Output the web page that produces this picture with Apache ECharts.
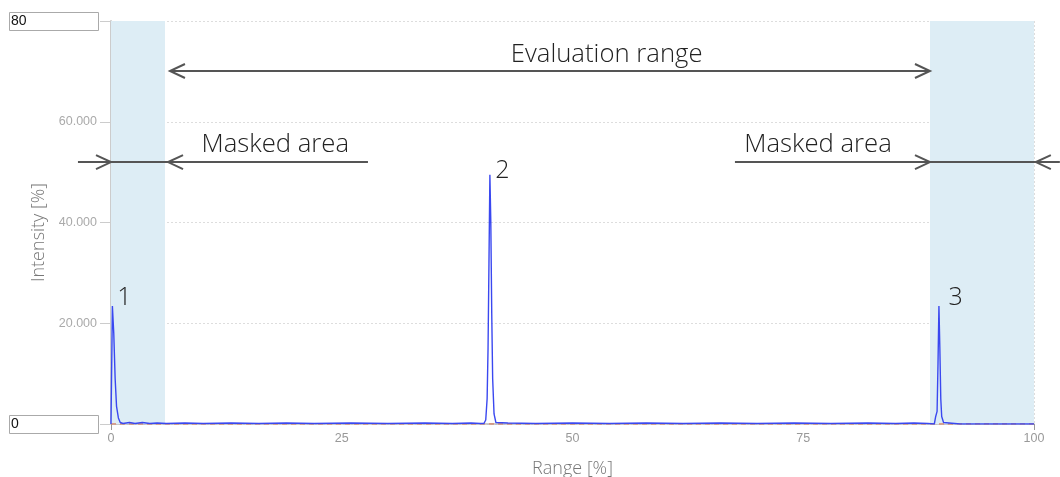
<!DOCTYPE html>
<html><head><meta charset="utf-8">
<script src="https://cdn.jsdelivr.net/npm/echarts@6/dist/echarts.min.js"></script>
<style>html,body{margin:0;padding:0;background:#fff}#c{width:1060px;height:477px}</style>
</head><body><div id="c"></div>
<script>
// Spectrum (x = Range %, y = Intensity %)
const rangeX = [0,0.15,0.3,0.45,0.6,0.8,1.0,1.3,2,2.6,3.4,4.2,5,6,8,10,13,16,19,22,26,30,34,37,39,40,40.4,40.6,40.75,40.85,40.95,41.05,41.15,41.25,41.35,41.5,41.7,41.9,43,46,50,54,58,62,66,70,74,78,82,85,87,88.5,89.2,89.35,89.5,89.6,89.7,89.8,89.9,90.0,90.2,90.4,92,95,98,100];
const intensity = [0,23.4,18,9,3.5,1.2,0.3,0.1,0.3,0.1,0.3,0.1,0.2,0.1,0.2,0.1,0.2,0.1,0.2,0.1,0.2,0.1,0.2,0.1,0.2,0.1,0.1,0.8,5,15,32,49.5,40,22,9,2,0.3,0.1,0.2,0.1,0.2,0.1,0.2,0.1,0.2,0.1,0.2,0.1,0.2,0.1,0.2,0.1,0,1.5,2.5,12,23.4,15,5,1.5,0.3,0,0,0,0,0];
const baselineX = [0,100];
const baselineY = [0,0];
const xTicks = [0,25,50,75,100];
const yTicks = [0,20,40,60,80];
const maskedAreas = [[0,5.85],[88.73,100]];
const peakLabels = [{t:'1',x:1.45,y:25.1},{t:'2',x:42.4,y:50.3},{t:'3',x:91.5,y:25.1}];
const annotTexts = [{t:'Evaluation range',x:53.7,y:73.4},{t:'Masked area',x:17.8,y:55.4},{t:'Masked area',x:76.6,y:55.4}];
// arrows: line from a to b at y, with tips [{x,dir}]
const arrows = [
  {x1:6.39,x2:88.73,y:70.07,tips:[{x:6.39,d:-1},{x:88.73,d:1}]},
  {x1:-3.58,x2:27.84,y:52.0,tips:[{x:0,d:1},{x:6.18,d:-1}]},
  {x1:67.6,x2:102.8,y:52.0,tips:[{x:88.73,d:1},{x:100.2,d:-1}]}
];

const chart = echarts.init(document.getElementById('c'));
const font = '"Open Sans", "Liberation Sans", Arial, sans-serif';
const tickFont = '"Liberation Sans", Arial, sans-serif';
chart.setOption({
  animation:false,
  grid:{left:111,right:26,top:21,bottom:53,containLabel:false,outerBoundsMode:'none'},
  xAxis:{type:'value',min:0,max:100,interval:25,
    name:'Range [%]',nameLocation:'middle',nameGap:36,
    nameTextStyle:{color:'#777',fontSize:18,fontWeight:300,fontFamily:font},
    axisLine:{lineStyle:{color:'#bbb',width:1.5}},
    axisTick:{show:true,length:6,lineStyle:{color:'#999'},customValues:xTicks.filter(v=>v===0||v===100)},
    axisLabel:{color:'#999',fontSize:12.5,fontFamily:tickFont,margin:8,customValues:xTicks},
    splitLine:{show:true,lineStyle:{color:'#ddd',type:[2,2]}}},
  yAxis:{type:'value',min:0,max:80,interval:20,
    name:'Intensity [%]',nameLocation:'middle',nameGap:62,
    nameTextStyle:{color:'#777',fontSize:18,fontWeight:300,fontFamily:font,padding:[0,20,0,0]},
    axisLine:{show:true,lineStyle:{color:'#ccc',width:2}},
    axisTick:{show:true,length:11,lineStyle:{color:'#ccc'}},
    axisLabel:{color:'#aaa',fontSize:12.5,fontFamily:tickFont,margin:14,
      formatter:v=>(v===0||v===80)?'':v.toFixed(3)},
    splitLine:{show:true,lineStyle:{color:'#ddd',type:[2,2]}}},
  series:[
    {type:'line',data:baselineX.map((x,i)=>[x,baselineY[i]]),symbol:'none',
      lineStyle:{color:'#d9856a',width:1.5,type:[5,4]},z:2,
      markArea:{silent:true,itemStyle:{color:'#ddedf5'},
        data:maskedAreas.map(a=>[{xAxis:a[0]},{xAxis:a[1]}])}},
    {type:'line',data:rangeX.map((x,i)=>[x,intensity[i]]),symbol:'none',
      lineStyle:{color:'#3a48f0',width:1.4},z:3}
  ]
});

function px(x,y){return chart.convertToPixel({gridIndex:0},[x,y]);}
const g = [];
const lineStyle = {stroke:'#555',lineWidth:2};
arrows.forEach(a=>{
  const p1=px(a.x1,a.y), p2=px(a.x2,a.y);
  g.push({type:'line',shape:{x1:p1[0],y1:p1[1],x2:p2[0],y2:p2[1]},style:lineStyle,z:50});
  a.tips.forEach(t=>{
    const p=px(t.x,a.y);
    g.push({type:'polyline',shape:{points:[[p[0]-t.d*15,p[1]-7],[p[0],p[1]],[p[0]-t.d*15,p[1]+7]]},style:{stroke:'#555',lineWidth:2,fill:null},z:50});
  });
});
annotTexts.forEach(a=>{
  const p=px(a.x,a.y);
  g.push({type:'text',x:p[0],y:p[1],style:{text:a.t,fill:'#222',font:'300 25.7px '+font,align:'center',verticalAlign:'middle'},z:50});
});
peakLabels.forEach(a=>{
  const p=px(a.x,a.y);
  g.push({type:'text',x:p[0],y:p[1],style:{text:a.t,fill:'#222',font:'300 25px '+font,align:'center',verticalAlign:'middle'},z:50});
});
[80,0].forEach(v=>{
  const p=px(0,v);
  g.push({type:'rect',shape:{x:9.5,y:Math.round(p[1])-8.5,width:89,height:18},style:{fill:'#fff',stroke:'#aaa',lineWidth:1},z:50});
  g.push({type:'text',x:11,y:Math.round(p[1])+0.5,style:{text:String(v),fill:'#111',font:'14px "Liberation Sans", Arial, sans-serif',verticalAlign:'middle'},z:51});
});
chart.setOption({graphic:g});
</script></body></html>
